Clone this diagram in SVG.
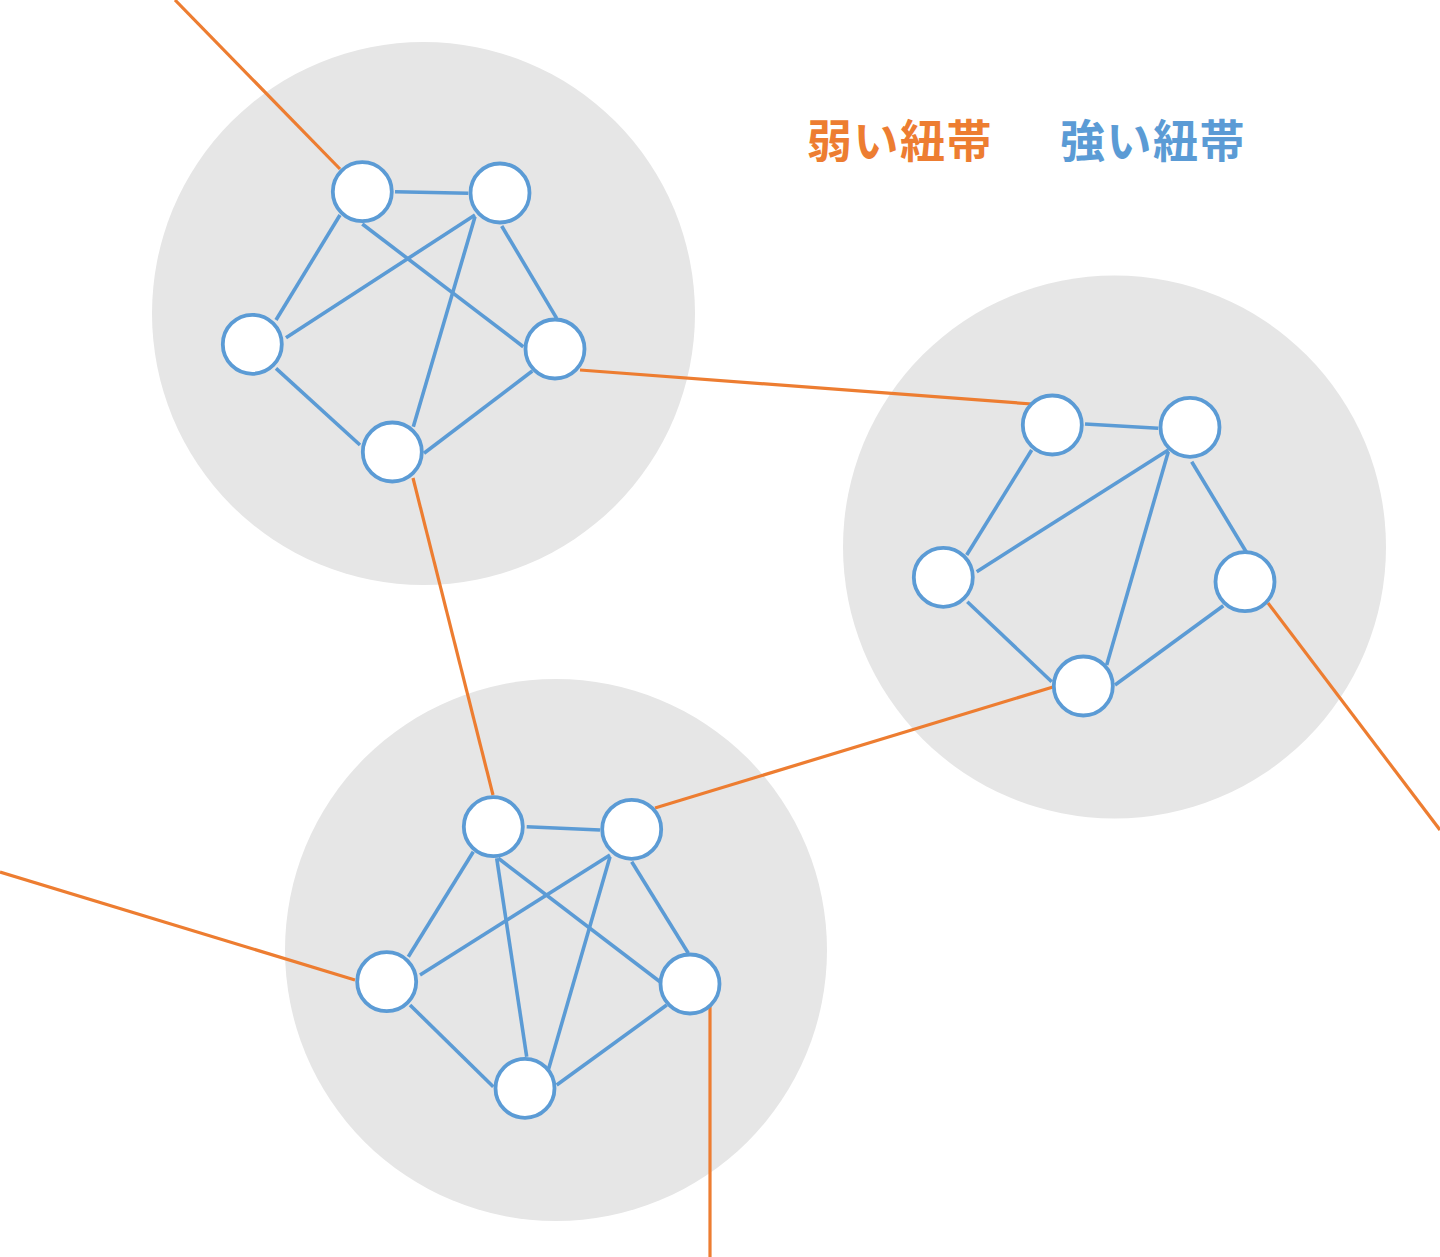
<svg xmlns="http://www.w3.org/2000/svg" width="1440" height="1257" viewBox="0 0 1440 1257">
<style>
.bg{fill:#e6e6e6}
.weak{stroke:#ed7d31;stroke-width:3.2;fill:none}
.strong{stroke:#5b9bd5;stroke-width:3.6;fill:none}
.node{fill:#ffffff;stroke:#5b9bd5;stroke-width:3.8}
.lbl{font-family:"Noto Sans CJK JP","Noto Sans CJK SC",sans-serif;font-size:45px;font-weight:bold;letter-spacing:1.5px}
</style>
<rect width="1440" height="1257" fill="#ffffff"/>
<g id="clusters">
<circle id="cluster1" class="bg" cx="423.5" cy="313.5" r="271.5"/>
<circle id="cluster2" class="bg" cx="1114.5" cy="547" r="271.5"/>
<circle id="cluster3" class="bg" cx="556" cy="950" r="271"/>
</g>
<g id="connectors">
<g id="weak-ties">
<line class="weak" x1="175" y1="0" x2="340" y2="169"/>
<line class="weak" x1="580" y1="370" x2="1032" y2="404"/>
<line class="weak" x1="413" y1="478" x2="493" y2="795"/>
<line class="weak" x1="1053" y1="687" x2="655" y2="808"/>
<line class="weak" x1="1268" y1="603" x2="1440" y2="830"/>
<line class="weak" x1="0" y1="872" x2="355" y2="980"/>
<line class="weak" x1="710" y1="1005" x2="710" y2="1257"/>
</g>
<g id="strong-ties">
<line class="strong" x1="395" y1="191.7" x2="468.3" y2="193.3"/>
<line class="strong" x1="340" y1="215" x2="276" y2="320"/>
<line class="strong" x1="362.3" y1="224" x2="523.3" y2="346.7"/>
<line class="strong" x1="475" y1="215" x2="286" y2="337.7"/>
<line class="strong" x1="501.7" y1="226" x2="556.7" y2="318.3"/>
<line class="strong" x1="475" y1="216.7" x2="413.3" y2="426.7"/>
<line class="strong" x1="276" y1="368.3" x2="360" y2="445"/>
<line class="strong" x1="532.3" y1="371" x2="424" y2="453.3"/>

<line class="strong" x1="1085" y1="424" x2="1158.3" y2="428.3"/>
<line class="strong" x1="1031.7" y1="450" x2="966.7" y2="555"/>
<line class="strong" x1="1168.3" y1="450" x2="976.7" y2="571.7"/>
<line class="strong" x1="1191.7" y1="461.7" x2="1246.7" y2="552.7"/>
<line class="strong" x1="1168.3" y1="451.7" x2="1106.7" y2="665"/>
<line class="strong" x1="967.3" y1="601.7" x2="1051.7" y2="681.7"/>
<line class="strong" x1="1223.3" y1="605.7" x2="1115" y2="685"/>

<line class="strong" x1="526.7" y1="826.7" x2="600" y2="830"/>
<line class="strong" x1="473.3" y1="851.7" x2="408.3" y2="956.7"/>
<line class="strong" x1="498.3" y1="858.3" x2="660" y2="981.7"/>
<line class="strong" x1="496.7" y1="858.3" x2="526.7" y2="1056.7"/>
<line class="strong" x1="610" y1="855" x2="420" y2="975"/>
<line class="strong" x1="631.7" y1="861.7" x2="688.3" y2="953.3"/>
<line class="strong" x1="610" y1="856.7" x2="548.3" y2="1070"/>
<line class="strong" x1="410" y1="1005" x2="493.3" y2="1086.7"/>
<line class="strong" x1="666.7" y1="1005" x2="556.7" y2="1085"/>
</g>
</g>
<g id="node-1a"><circle class="node" cx="362.3" cy="191.7" r="29.5"/></g>
<g id="node-1b"><circle class="node" cx="500" cy="193" r="29.5"/></g>
<g id="node-1c"><circle class="node" cx="252.3" cy="344.3" r="29.5"/></g>
<g id="node-1d"><circle class="node" cx="555" cy="349" r="29.5"/></g>
<g id="node-1e"><circle class="node" cx="392.3" cy="452" r="29.5"/></g>
<g id="node-2a"><circle class="node" cx="1052.3" cy="425" r="29.5"/></g>
<g id="node-2b"><circle class="node" cx="1190" cy="427.3" r="29.5"/></g>
<g id="node-2c"><circle class="node" cx="943.3" cy="577.3" r="29.5"/></g>
<g id="node-2d"><circle class="node" cx="1245" cy="581.7" r="29.5"/></g>
<g id="node-2e"><circle class="node" cx="1083.3" cy="686" r="29.5"/></g>
<g id="node-3a"><circle class="node" cx="493.3" cy="826.7" r="29.5"/></g>
<g id="node-3b"><circle class="node" cx="631.7" cy="829.3" r="29.5"/></g>
<g id="node-3c"><circle class="node" cx="386.7" cy="981.7" r="29.5"/></g>
<g id="node-3d"><circle class="node" cx="690" cy="984" r="29.5"/></g>
<g id="node-3e"><circle class="node" cx="525" cy="1088.3" r="29.5"/></g>
<g id="legend">
<text class="lbl" x="807" y="158" fill="#ed7d31">弱い紐帯</text>
<text class="lbl" x="1060" y="158" fill="#5b9bd5">強い紐帯</text>
</g>
</svg>
